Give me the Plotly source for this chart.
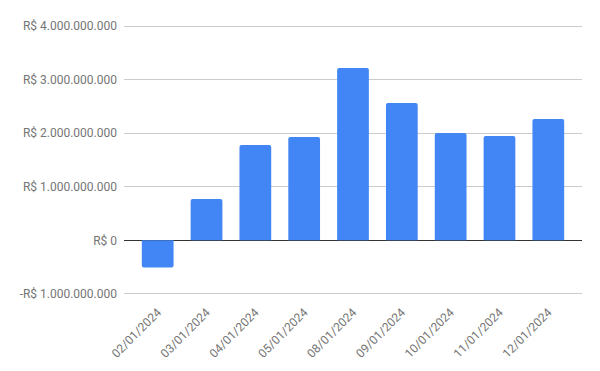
import plotly.graph_objects as go

categories = ["02/01/2024", "03/01/2024", "04/01/2024", "05/01/2024", "08/01/2024",
              "09/01/2024", "10/01/2024", "11/01/2024", "12/01/2024"]
values = [-510_000_000, 772_000_000, 1_781_000_000, 1_931_000_000, 3_220_000_000,
          2_566_000_000, 2_006_000_000, 1_950_000_000, 2_267_000_000]
y_tick_vals = [-1_000_000_000, 0, 1_000_000_000, 2_000_000_000, 3_000_000_000, 4_000_000_000]
y_tick_text = ["-R$ 1.000.000.000", "R$ 0", "R$ 1.000.000.000", "R$ 2.000.000.000",
               "R$ 3.000.000.000", "R$ 4.000.000.000"]

fig = go.Figure(go.Bar(
    x=categories, y=values,
    marker=dict(color="#4285F4", line=dict(width=0), cornerradius=2),
))

# The page body has an 8px default margin; margins below compensate for it.
fig.update_layout(
    width=600, height=371,
    margin=dict(l=116, r=26, t=16, b=83, autoexpand=False),
    paper_bgcolor="white", plot_bgcolor="white",
    bargap=0.35,
    showlegend=False,
    font=dict(family="Roboto", size=12, color="#757575"),
)
fig.update_xaxes(
    type="category",
    range=[-0.69, 8.69],
    tickangle=-45,
    showgrid=False, showline=False, zeroline=False,
    tickfont=dict(family="Roboto", size=12, color="#757575"),
    ticklabelstandoff=6,
    automargin=False,
)
fig.update_yaxes(
    range=[-1_040_000_000, 4_040_000_000],
    tickvals=y_tick_vals, ticktext=y_tick_text,
    showgrid=True, gridcolor="#cccccc", gridwidth=1,
    zeroline=True, zerolinecolor="#333333", zerolinewidth=1,
    showline=False,
    tickfont=dict(family="Roboto", size=12, color="#757575"),
    ticklabelstandoff=6,
    automargin=False,
)

fig.write_html("out.html")
